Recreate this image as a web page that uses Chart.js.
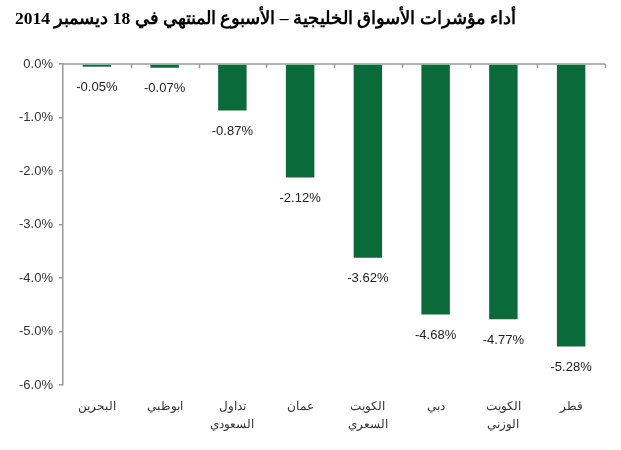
<!DOCTYPE html>
<html>
<head>
<meta charset="utf-8">
<script src="https://cdn.jsdelivr.net/npm/chart.js@4/dist/chart.umd.min.js"></script>
<style>
html,body{margin:0;padding:0;background:#fff;}
#wrap{width:621px;height:450px;position:relative;}
</style>
</head>
<body>
<div id="wrap"><canvas id="c" width="621" height="450"></canvas></div>
<script>
const titleText = 'أداء مؤشرات الأسواق الخليجية – الأسبوع المنتهي في 18 ديسمبر 2014';
const categories = [
  ['البحرين'],
  ['ابوظبي'],
  ['تداول', 'السعودي'],
  ['عمان'],
  ['الكويت', 'السعري'],
  ['دبي'],
  ['الكويت', 'الوزني'],
  ['قطر']
];
const values = [-0.05, -0.07, -0.87, -2.12, -3.62, -4.68, -4.77, -5.28];
const yTicks = [0, -1, -2, -3, -4, -5, -6];

const axisColor = '#9a9a9a';
const textColor = '#333333';

const barLabels = {
  id: 'barLabels',
  afterDatasetsDraw(chart) {
    const ctx = chart.ctx;
    const meta = chart.getDatasetMeta(0);
    ctx.save();
    ctx.font = '13px "Liberation Sans", Arial, sans-serif';
    ctx.fillStyle = '#222';
    ctx.textAlign = 'center';
    ctx.textBaseline = 'middle';
    meta.data.forEach((bar, i) => {
      ctx.fillText(values[i].toFixed(2) + '%', bar.x, bar.y + 21);
    });
    ctx.restore();
  }
};

const zeroAxis = {
  id: 'zeroAxis',
  afterDatasetsDraw(chart) {
    const ctx = chart.ctx;
    const x = chart.scales.x;
    const y0 = chart.scales.y.getPixelForValue(0);
    const step = x.getPixelForValue(1) - x.getPixelForValue(0);
    ctx.save();
    ctx.strokeStyle = axisColor;
    ctx.lineWidth = 1.5;
    ctx.beginPath();
    ctx.moveTo(chart.chartArea.left, y0);
    ctx.lineTo(chart.chartArea.right, y0);
    for (let i = 0; i < categories.length; i++) {
      const px = Math.round(x.getPixelForValue(i) + step / 2) + 0.5;
      ctx.moveTo(px, y0);
      ctx.lineTo(px, y0 + 4);
    }
    ctx.stroke();
    ctx.restore();
  }
};

new Chart(document.getElementById('c'), {
  type: 'bar',
  data: {
    labels: categories,
    datasets: [{
      data: values,
      backgroundColor: '#0b6a3a',
      borderWidth: 0,
      barPercentage: 0.42,
      categoryPercentage: 1.0
    }]
  },
  options: {
    responsive: false,
    animation: false,
    devicePixelRatio: 1,
    layout: { padding: { left: 15, right: 16, top: 0, bottom: 0 } },
    plugins: {
      legend: { display: false },
      tooltip: { enabled: false },
      title: {
        display: true,
        text: titleText,
        align: 'start',
        color: '#000',
        font: { family: '"Liberation Serif", "Times New Roman", serif', size: 17.5, weight: 'bold' },
        padding: { top: 9, bottom: 34 }
      }
    },
    scales: {
      x: {
        grid: { display: false },
        border: { display: false },
        ticks: {
          color: textColor,
          font: { family: '"Liberation Sans", Arial, sans-serif', size: 12, lineHeight: 1.5 },
          padding: 5,
          maxRotation: 0,
          autoSkip: false
        },
        afterFit(s) { s.height = 65; }
      },
      y: {
        min: -6,
        max: 0,
        afterBuildTicks(s) { s.ticks = yTicks.map(v => ({ value: v })); },
        grid: { drawOnChartArea: false, drawTicks: true, tickLength: 4, color: axisColor, lineWidth: 1.5 },
        border: { display: true, color: axisColor, width: 1.5 },
        ticks: {
          color: textColor,
          font: { family: '"Liberation Sans", Arial, sans-serif', size: 13 },
          padding: 6,
          callback: v => v.toFixed(1) + '%'
        },
        afterFit(s) { s.width = 48; }
      }
    }
  },
  plugins: [barLabels, zeroAxis]
});
</script>
</body>
</html>
